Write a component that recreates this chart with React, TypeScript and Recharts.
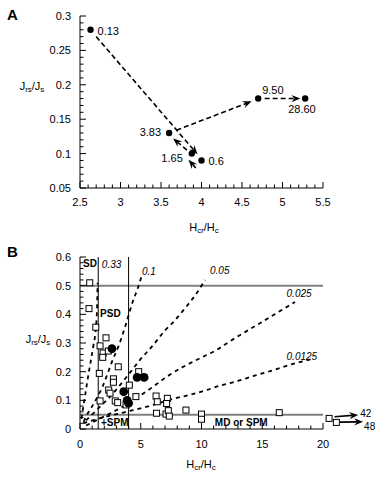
import React from 'react'
import {
  ScatterChart,
  Scatter,
  XAxis,
  YAxis,
  ReferenceLine,
  ReferenceDot,
} from 'recharts'

const FONT = 'Arial, "Liberation Sans", Helvetica, sans-serif'

// ---- panel A: one sample, labelled steps ----
const stepLabels = ['0.13', '3.83', '1.65', '0.6', '9.50', '28.60']
const stepHcr = [2.63, 3.6, 3.88, 4.0, 4.7, 5.28]
const stepJrs = [0.28, 0.13, 0.1, 0.09, 0.18, 0.18]
const stepLabelSide = ['right', 'left', 'below-left', 'right', 'above', 'below']

// arrows joining the steps, [x, y] start and end
const stepArrowFrom = [[2.7, 0.27], [3.93, 0.079], [3.82, 0.105], [3.69, 0.134], [4.78, 0.18]]
const stepArrowTo = [[3.95, 0.099], [3.84, 0.091], [3.65, 0.122], [4.62, 0.176], [5.22, 0.18]]

const aXMajor = [2.5, 3, 3.5, 4, 4.5, 5, 5.5]
const aYMajor = [0.05, 0.1, 0.15, 0.2, 0.25, 0.3]

// ---- panel B: Day plot ----
const sampleHcr = [0.8, 0.74, 1.3, 1.65, 2.14, 1.9, 1.87, 2.33, 1.59, 3.15, 2.75, 2.75, 4.06, 2.36, 2.47,
  1.65, 2.9, 3.1, 3.79, 4.6, 4.83, 6.26, 6.36, 6.3, 7.19, 7.13, 7.08, 7.27, 7.35, 8.72, 10.0, 10.0, 16.4]
const sampleJrs = [0.51, 0.42, 0.355, 0.29, 0.318, 0.265, 0.25, 0.272, 0.194, 0.217, 0.175, 0.163, 0.153, 0.136, 0.125,
  0.098, 0.098, 0.092, 0.084, 0.113, 0.2, 0.115, 0.095, 0.055, 0.107, 0.089, 0.052, 0.064, 0.045, 0.066, 0.052, 0.034, 0.057]

// off-scale samples (Hcr/Hc = 42 and 48)
const offLabels = ['42', '48']
const offHcr = [20.5, 21.1]
const offJrs = [0.037, 0.023]
const offArrowFrom = [[20.95, 0.043], [21.4, 0.024]]
const offArrowTo = [[22.9, 0.049], [23.3, 0.025]]

const curveLabels = ['0.33', '0.1', '0.05', '0.025', '0.0125']
const curve033 = [[0.12, 0.035], [0.27, 0.078], [0.49, 0.136], [0.71, 0.194], [0.9, 0.24], [1.1, 0.29], [1.3, 0.35], [1.4, 0.42], [1.45, 0.51]]
const curve01 = [[0.3, 0.025], [0.49, 0.043], [0.9, 0.072], [1.37, 0.107], [1.86, 0.148], [2.28, 0.194], [2.69, 0.241],
  [3.18, 0.29], [3.79, 0.367], [4.33, 0.443], [4.75, 0.49], [5.05, 0.53]]
const curve005 = [[0.5, 0.03], [1.65, 0.078], [2.74, 0.125], [3.84, 0.182], [4.94, 0.241], [6.03, 0.293], [7.0, 0.344],
  [7.68, 0.373], [8.5, 0.414], [9.47, 0.466], [10.3, 0.52]]
const curve0025 = [[0.5, 0.012], [1.37, 0.031], [2.74, 0.06], [4.39, 0.101], [6.03, 0.148], [7.13, 0.182], [8.5, 0.217],
  [9.88, 0.247], [11.25, 0.276], [12.3, 0.305], [13.58, 0.338], [15.2, 0.379], [16.87, 0.422], [17.7, 0.443]]
const curve00125 = [[0.27, 0.02], [1.1, 0.031], [2.74, 0.049], [4.39, 0.066], [6.03, 0.084], [7.82, 0.107], [9.05, 0.119],
  [10.43, 0.136], [11.66, 0.153], [12.8, 0.165], [14.3, 0.185], [15.9, 0.205], [17.6, 0.228], [19.2, 0.245]]
const curves = [curve033, curve01, curve005, curve0025, curve00125]
// where each curve label sits (data units)
const curveLabelAt = [[1.8, 0.562], [5.1, 0.537], [10.7, 0.54], [17.0, 0.462], [17.0, 0.242]]

const regionLabels = ['SD', 'PSD', '+SPM', 'MD or SPM']
const regionLabelAt = [[0.25, 0.565], [1.65, 0.39], [1.73, 0.01], [11.1, 0.01]]

const bXMajor = [0, 5, 10, 15, 20]
const bYMajor = [0, 0.1, 0.2, 0.3, 0.4, 0.5, 0.6]

const steps = (from: number, to: number, step: number) => {
  const out: number[] = []
  const n = Math.round((to - from) / step)
  for (let i = 0; i <= n; i++) out.push(+(from + i * step).toFixed(4))
  return out
}

const isMajor = (major: number[], v: number) => major.some((m) => Math.abs(m - v) < 1e-6)

const xTick = (major: number[], side: 'bottom' | 'top', labelDy: number) => (p: any) => {
  const { x, y, payload } = p
  const v = payload.value
  const big = isMajor(major, v)
  const l = big ? 6 : 3.5
  if (side === 'top') return <line x1={x} x2={x} y1={y} y2={y + l} stroke="#000" />
  return (
    <g>
      <line x1={x} x2={x} y1={y} y2={y - l} stroke="#000" />
      {big && (
        <text x={x} y={y + labelDy} textAnchor="middle" fontSize={11} fontFamily={FONT} fill="#000">
          {String(v)}
        </text>
      )}
    </g>
  )
}

const yTick = (major: number[], side: 'left' | 'right') => (p: any) => {
  const { x, y, payload } = p
  const v = payload.value
  const big = isMajor(major, v)
  const l = big ? 6 : 3.5
  if (side === 'right') return <line x1={x} x2={x - l} y1={y} y2={y} stroke="#000" />
  return (
    <g>
      <line x1={x} x2={x + l} y1={y} y2={y} stroke="#000" />
      {big && (
        <text x={x - 9} y={y + 4} textAnchor="end" fontSize={11} fontFamily={FONT} fill="#000">
          {String(v)}
        </text>
      )}
    </g>
  )
}

const arrowShape = (dash: string, tag?: string, tagDx = 2, tagDy = 3) => (p: any) => {
  const { x1, y1, x2, y2 } = p
  const a = Math.atan2(y2 - y1, x2 - x1)
  const c = Math.cos(a)
  const s = Math.sin(a)
  const L = 9
  const W = 3.6
  const bx = x2 - L * c
  const by = y2 - L * s
  const nx = x2 - L * 0.65 * c
  const ny = y2 - L * 0.65 * s
  const pts = `${x2},${y2} ${bx - s * W},${by + c * W} ${nx},${ny} ${bx + s * W},${by - c * W}`
  return (
    <g>
      <line x1={x1} y1={y1} x2={nx} y2={ny} stroke="#000" strokeWidth={1.6} strokeDasharray={dash} />
      <polygon points={pts} fill="#000" />
      {tag && (
        <text x={x2 + tagDx} y={y2 + tagDy} fontSize={10} fontFamily={FONT} fill="#000">
          {tag}
        </text>
      )}
    </g>
  )
}

const noteShape = (text: string, italic: boolean) => (p: any) => (
  <text
    x={p.cx}
    y={p.cy}
    fontSize={10}
    fontFamily={FONT}
    fontStyle={italic ? 'italic' : 'normal'}
    fontWeight={italic ? 'normal' : 'bold'}
    fill="#000"
  >
    {text}
  </text>
)

const square = (p: any) => (
  <rect x={p.cx - 3} y={p.cy - 3} width={6} height={6} fill="#fff" stroke="#000" strokeWidth={1} />
)

const stepPoint = (p: any) => {
  const { cx, cy, index } = p
  const side = stepLabelSide[index]
  let tx = cx + 7
  let ty = cy + 5
  let anchor = 'start'
  if (side === 'left') { tx = cx - 8; ty = cy + 3; anchor = 'end' }
  if (side === 'below-left') { tx = cx - 9; ty = cy + 8; anchor = 'end' }
  if (side === 'above') { tx = cx + 4; ty = cy - 5; anchor = 'start' }
  if (side === 'below') { tx = cx - 17; ty = cy + 14; anchor = 'start' }
  return (
    <g>
      <circle cx={cx} cy={cy} r={3.2} fill="#000" />
      <text x={tx} y={ty} textAnchor={anchor} fontSize={11} fontFamily={FONT} fill="#000">
        {stepLabels[index]}
      </text>
    </g>
  )
}

const dot = (p: any) => <circle cx={p.cx} cy={p.cy} r={4.4} fill="#000" />

const hidden = () => <g />

const stepData = stepHcr.map((x, i) => ({ x, y: stepJrs[i] }))
const sampleData = sampleHcr.map((x, i) => ({ x, y: sampleJrs[i] }))

// bottom/left axes carry labels, top/right mirror the inward ticks
function axesSet(xDomain: number[], yDomain: number[], xMajor: number[], yMajor: number[], xMinor: number[], yMinor: number[], labelDy: number) {
  return [
    <XAxis key="xb" dataKey="x" type="number" domain={xDomain} ticks={xMinor} interval={0} height={36}
      tickSize={0} tickMargin={0} tickLine={false} axisLine={{ stroke: '#000' }} tick={xTick(xMajor, 'bottom', labelDy)} />,
    <XAxis key="xt" xAxisId="top" orientation="top" dataKey="x" type="number" domain={xDomain} allowDataOverflow
      ticks={xMinor} interval={0} height={0} tickSize={0} tickMargin={0} tickLine={false} axisLine={{ stroke: '#000' }}
      tick={xTick(xMajor, 'top', 0)} />,
    <YAxis key="yl" dataKey="y" type="number" domain={yDomain} ticks={yMinor} interval={0} width={80}
      tickSize={0} tickMargin={0} tickLine={false} axisLine={{ stroke: '#000' }} tick={yTick(yMajor, 'left')} />,
    <YAxis key="yr" yAxisId="right" orientation="right" dataKey="y" type="number" domain={yDomain} allowDataOverflow
      ticks={yMinor} interval={0} width={0} tickSize={0} tickMargin={0} tickLine={false} axisLine={{ stroke: '#000' }}
      tick={yTick(yMajor, 'right')} />,
  ]
}

function Ratio({ x, y, main, sub1, sub2 }: { x: number; y: number; main: string; sub1: string; sub2: string }) {
  return (
    <text x={x} y={y} textAnchor="middle" fontSize={11} fontFamily={FONT} fill="#000">
      {main}
      <tspan fontSize={8} dy={2}>{sub1}</tspan>
      <tspan dy={-2}>/{main}</tspan>
      <tspan fontSize={8} dy={2}>{sub2}</tspan>
    </text>
  )
}

export default function App() {
  return (
    <div style={{ position: 'absolute', left: 0, top: 0, width: 382, height: 477, background: '#fff' }}>
      <div style={{ position: 'absolute', left: 0, top: 0 }}>
        <ScatterChart width={382} height={240} margin={{ top: 16, right: 59, bottom: 16, left: 0 }}>
          {axesSet([2.5, 5.5], [0.05, 0.3], aXMajor, aYMajor, steps(2.5, 5.5, 0.1), steps(0.05, 0.3, 0.01), 18)}
          {stepArrowFrom.map((f, i) => (
            <ReferenceLine
              key={i}
              segment={[{ x: f[0], y: f[1] }, { x: stepArrowTo[i][0], y: stepArrowTo[i][1] }]}
              ifOverflow="visible"
              shape={arrowShape('5 3')}
            />
          ))}
          <Scatter data={stepData} shape={stepPoint} isAnimationActive={false} />
        </ScatterChart>
      </div>
      <div style={{ position: 'absolute', left: 0, top: 240 }}>
        <ScatterChart width={382} height={237} margin={{ top: 17, right: 59, bottom: 12, left: 0 }}>
          {axesSet([0, 20], [0, 0.6], bXMajor, bYMajor, steps(0, 20, 1), steps(0, 0.6, 0.02), 19)}
          <ReferenceLine y={0.5} stroke="#808080" strokeWidth={2} />
          <ReferenceLine y={0.05} stroke="#808080" strokeWidth={2} />
          <ReferenceLine x={1.5} stroke="#000" strokeWidth={1} />
          <ReferenceLine x={4} stroke="#000" strokeWidth={1} />
          {curves.map((c, i) => (
            <Scatter
              key={curveLabels[i]}
              data={c.map(([x, y]) => ({ x, y }))}
              line={{ stroke: '#000', strokeWidth: 1.8, strokeDasharray: '4 4' }}
              lineJointType="monotoneX"
              shape={hidden}
              isAnimationActive={false}
            />
          ))}
          {curveLabelAt.map((p, i) => (
            <ReferenceDot key={'c' + i} x={p[0]} y={p[1]} r={0} ifOverflow="visible" shape={noteShape(curveLabels[i], true)} />
          ))}
          {regionLabelAt.map((p, i) => (
            <ReferenceDot key={'r' + i} x={p[0]} y={p[1]} r={0} ifOverflow="visible" shape={noteShape(regionLabels[i], false)} />
          ))}
          <Scatter data={sampleData} shape={square} isAnimationActive={false} />
          <Scatter data={stepData} shape={dot} isAnimationActive={false} />
          {offHcr.map((x, i) => (
            <ReferenceDot key={'o' + i} x={x} y={offJrs[i]} r={3} ifOverflow="visible" shape={square} />
          ))}
          {offArrowFrom.map((f, i) => (
            <ReferenceLine
              key={'a' + i}
              segment={[{ x: f[0], y: f[1] }, { x: offArrowTo[i][0], y: offArrowTo[i][1] }]}
              ifOverflow="visible"
              shape={arrowShape('none', offLabels[i], i === 0 ? 2 : 1, i === 0 ? 2 : 8)}
            />
          ))}
        </ScatterChart>
      </div>
      <svg width={382} height={477} style={{ position: 'absolute', left: 0, top: 0, pointerEvents: 'none' }}>
        <text x={7} y={20} fontSize={15} fontWeight="bold" fontFamily={FONT}>A</text>
        <text x={7} y={257} fontSize={15} fontWeight="bold" fontFamily={FONT}>B</text>
        <Ratio x={32} y={90} main="J" sub1="rs" sub2="s" />
        <Ratio x={38} y={343} main="J" sub1="rs" sub2="s" />
        <Ratio x={204} y={231} main="H" sub1="cr" sub2="c" />
        <Ratio x={201} y={468} main="H" sub1="cr" sub2="c" />
      </svg>
    </div>
  )
}
